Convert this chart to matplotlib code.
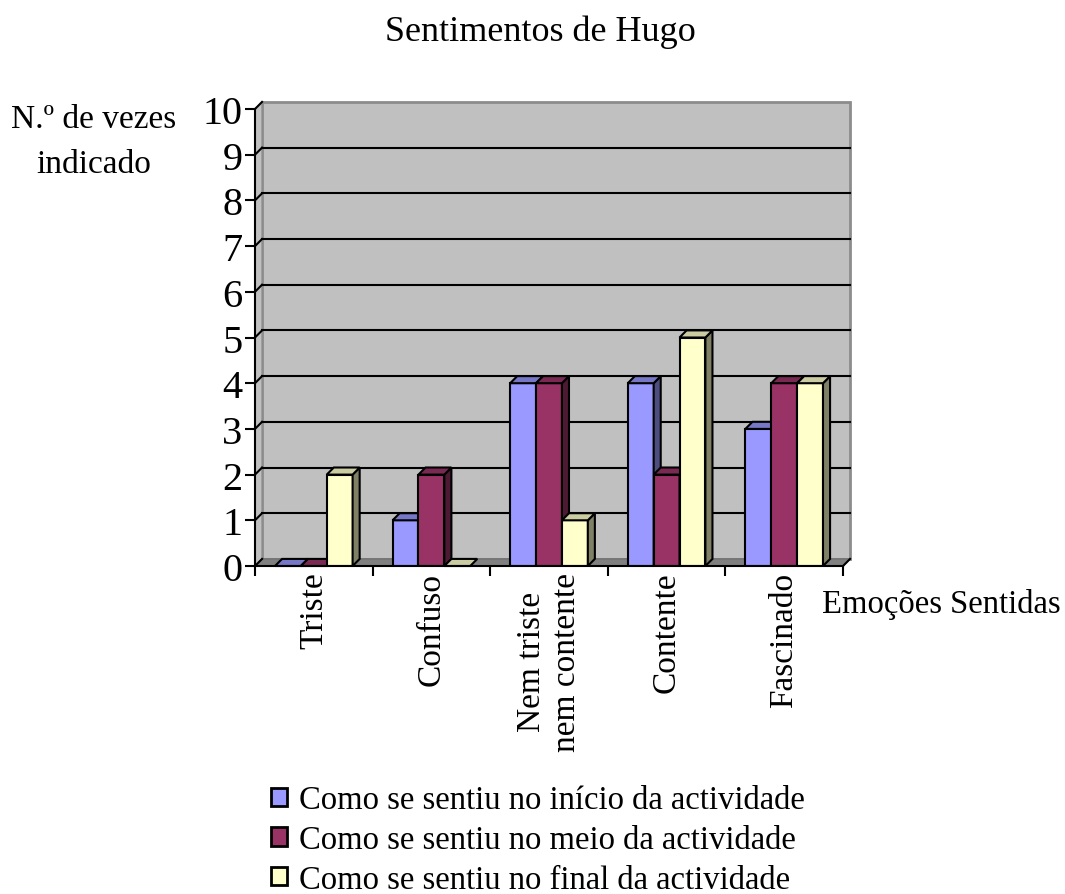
import matplotlib.pyplot as plt
from matplotlib.patches import Polygon, Patch

plt.rcParams['font.family'] = ['Liberation Serif', 'DejaVu Serif']

categorias = ['Triste', 'Confuso', 'Nem triste\nnem contente', 'Contente', 'Fascinado']
inicio = [0, 1, 4, 4, 3]
meio = [0, 2, 4, 2, 4]
final = [2, 0, 1, 5, 4]
series = ['Como se sentiu no início da actividade',
          'Como se sentiu no meio da actividade',
          'Como se sentiu no final da actividade']
valores = [inicio, meio, final]

# (frente, topo, lado)
cores = [('#9999FF', '#7777C8', '#4D4D80'),
         ('#993366', '#7A2952', '#4D1A33'),
         ('#FFFFCC', '#CCCCA3', '#808066')]

fig = plt.figure(figsize=(10.65, 8.95), dpi=100)
ax = fig.add_axes([255 / 1065, 1 - 567 / 895, 588 / 1065, 457 / 895])
ax.set_xlim(0, 5)
ax.set_ylim(0, 10)

dx, dy = 0.06, 0.155  # profundidade do efeito 3D
w = 0.22

# parede do fundo, parede lateral e chao
ax.add_patch(Polygon([(dx, dy), (5 + dx, dy), (5 + dx, 10 + dy), (dx, 10 + dy)], closed=True,
                     facecolor='#C0C0C0', edgecolor='#8C8C8C', lw=2, zorder=0, clip_on=False))
ax.add_patch(Polygon([(0, 0), (dx, dy), (dx, 10 + dy), (0, 10)], closed=True,
                     facecolor='#C0C0C0', edgecolor='#8C8C8C', lw=1, zorder=0, clip_on=False))
ax.add_patch(Polygon([(0, 0), (5, 0), (5 + dx, dy), (dx, dy)], closed=True,
                     facecolor='#808080', edgecolor='#707070', lw=1, zorder=1, clip_on=False))

for v in range(1, 10):
    ax.plot([dx, 5 + dx], [v + dy, v + dy], color='black', lw=1.5, zorder=1, clip_on=False)
for v in range(0, 11):
    ax.plot([0, dx], [v, v + dy], color='black', lw=1.5, zorder=1, clip_on=False)

z = 2
for i in range(len(categorias)):
    for j in range(3):
        h = valores[j][i]
        x0 = i + 0.5 - 1.5 * w + j * w
        frente, topo, lado = cores[j]
        if h > 0:
            ax.add_patch(Polygon([(x0, 0), (x0 + w, 0), (x0 + w, h), (x0, h)], closed=True,
                                 facecolor=frente, edgecolor='black', lw=1.5, zorder=z))
            ax.add_patch(Polygon([(x0 + w, 0), (x0 + w + dx, dy), (x0 + w + dx, h + dy), (x0 + w, h)],
                                 closed=True, facecolor=lado, edgecolor='black', lw=1.5, zorder=z,
                                 clip_on=False))
        ax.add_patch(Polygon([(x0, h), (x0 + w, h), (x0 + w + dx, h + dy), (x0 + dx, h + dy)],
                             closed=True, facecolor=topo, edgecolor='black', lw=1.5, zorder=z,
                             clip_on=False))
        z += 1

for s in ['top', 'right']:
    ax.spines[s].set_visible(False)
for s in ['left', 'bottom']:
    ax.spines[s].set_linewidth(1.5)
    ax.spines[s].set_zorder(z + 1)
ax.plot([5, 5 + dx], [0, dy], color='black', lw=1.5, clip_on=False, zorder=z + 1)

ax.set_yticks(range(0, 11))
ax.tick_params(axis='y', labelsize=29, length=7, width=1.5, pad=2)
ax.set_xticks(range(0, 6))
ax.set_xticklabels([])
ax.tick_params(axis='x', which='major', length=7, width=1.5)
ax.set_xticks([i + 0.5 for i in range(5)], minor=True)
ax.set_xticklabels(categorias, minor=True, rotation=90, fontsize=24, va='top', ha='center')
ax.tick_params(axis='x', which='minor', length=0, pad=4)
for t in ax.get_xticklabels(minor=True):
    t.set_multialignment('center')

fig.text(540 / 1065, 1 - 32 / 895, 'Sentimentos de Hugo', ha='center', va='center', fontsize=26)
fig.text(94 / 1065, 1 - 142 / 895, 'N.º de vezes\nindicado', ha='center', va='center',
         fontsize=24, linespacing=1.6)
fig.text(822 / 1065, 1 - 605 / 895, 'Emoções Sentidas', ha='left', va='center', fontsize=23.5)

handles = [Patch(facecolor=c[0], edgecolor='black', lw=2) for c in cores]
fig.legend(handles, series, loc='upper left', bbox_to_anchor=(271 / 1065, 1 - 786 / 895),
           frameon=False, fontsize=23.5, handlelength=0.5, handleheight=0.5,
           handletextpad=0.37, labelspacing=0.28, borderpad=0, borderaxespad=0)

plt.savefig('out.png', dpi=100)
